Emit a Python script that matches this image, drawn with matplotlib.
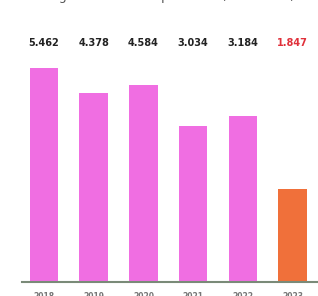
import matplotlib.pyplot as plt
from matplotlib import font_manager
import matplotlib.transforms as mtransforms

# years on the x axis
years = ['2018', '2019', '2020', '2021', '2022', '2023']
# bar heights
values = [5.46, 4.82, 5.03, 3.98, 4.23, 2.37]
# labels printed above the bars
labels = ['5.462', '4.378', '4.584', '3.034', '3.184', '1.847']

pink = '#f06ee2'
orange = '#f0703a'
colors = [pink] * 5 + [orange]
label_colors = ['#222222'] * 5 + ['#e0303a']

names = {f.name for f in font_manager.fontManager.ttflist}
label_font = 'Liberation Sans Narrow' if 'Liberation Sans Narrow' in names else 'DejaVu Sans'

fig = plt.figure(figsize=(3.18, 2.96), dpi=100)
ax = fig.add_axes([22 / 318, 14 / 296, 1 - 22 / 318, 232 / 296])

x = list(range(len(years)))
ax.bar(x, values, width=0.57, color=colors, edgecolor='none')

ax.set_xlim(-0.44, 5.51)
ax.set_ylim(0, 5.92)

# value labels in a row above the plot
trans = mtransforms.blended_transform_factory(ax.transData, ax.transAxes)
for xi, lab, c in zip(x, labels, label_colors):
    ax.text(xi, 1.03, lab, transform=trans, ha='center', va='center',
            fontsize=7, fontweight='bold', color=c, family=label_font)

# partly cut title at the very top
fig.text(0.5, 1.012, 'Average annual sales per store (in millions)',
         ha='center', va='center', fontsize=9, color='#555555')

for s in ['top', 'right', 'left']:
    ax.spines[s].set_visible(False)
ax.spines['bottom'].set_color('#7a8a78')
ax.spines['bottom'].set_linewidth(1.5)
ax.set_yticks([])
ax.set_xticks(x)
ax.set_xticklabels(years, fontsize=5.5, color='#777777', fontweight='bold')
ax.tick_params(axis='x', length=0, pad=7)

fig.savefig('out.png', dpi=100)
